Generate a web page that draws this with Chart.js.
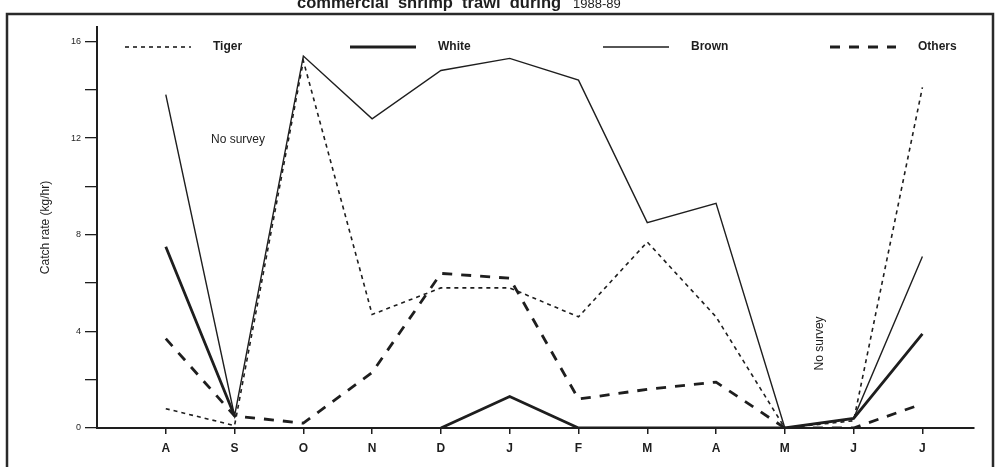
<!DOCTYPE html>
<html>
<head>
<meta charset="utf-8">
<script src="https://cdn.jsdelivr.net/npm/chart.js@4/dist/chart.umd.min.js"></script>
<style>
  html, body { margin: 0; padding: 0; background: #fff; }
  canvas { display: block; }
</style>
</head>
<body>
<canvas id="c" width="999" height="468"></canvas>
<script>
// Months of the 1988-89 survey season (Aug .. Jul)
const months = ['A', 'S', 'O', 'N', 'D', 'J', 'F', 'M', 'A', 'M', 'J', 'J'];

// Catch rate (kg/hr) per shrimp group
const tiger  = [0.8, 0.1, 15.2, 4.7, 5.8, 5.8, 4.6, 7.7, 4.6, 0, 0.3, 14.1];
const white  = [7.5, 0.5, null, null, 0, 1.3, 0, 0, 0, 0, 0.4, 3.9];
const brown  = [13.8, 0.5, 15.4, 12.8, 14.8, 15.3, 14.4, 8.5, 9.3, 0, 0.4, 7.1];
const others = [3.7, 0.5, 0.2, 2.3, 6.4, 6.2, 1.2, 1.6, 1.9, 0, 0, 1.0];

const yTicks = [0, 2, 4, 6, 8, 10, 12, 14, 16];
const yLabelled = [0, 4, 8, 12, 16];

const INK = '#1e1e1e';
const FONT = "'Liberation Sans', Arial, sans-serif";

const toPoints = arr => arr.map((v, i) => ({ x: i, y: v }));

const series = [
  { label: 'Tiger',  data: tiger,  width: 1.6, dash: [4, 4] },
  { label: 'White',  data: white,  width: 2.8, dash: [] },
  { label: 'Brown',  data: brown,  width: 1.4, dash: [] },
  { label: 'Others', data: others, width: 2.8, dash: [10, 9] }
];

// Legend, caption, frame and the "No survey" notes
const decorations = {
  id: 'decorations',
  beforeDraw(chart) {
    const ctx = chart.ctx;
    ctx.save();
    ctx.fillStyle = '#fff';
    ctx.fillRect(0, 0, chart.width, chart.height);
    ctx.restore();
  },
  afterDatasetsDraw(chart, args, opts) {
    const ctx = chart.ctx;
    const xs = chart.scales.x, ys = chart.scales.y;
    ctx.save();
    ctx.fillStyle = INK;
    ctx.strokeStyle = INK;

    // legend row
    chart.data.datasets.forEach((ds, i) => {
      const x0 = opts.legendX[i];
      const y = opts.legendY;
      ctx.beginPath();
      ctx.lineWidth = ds.borderWidth;
      ctx.setLineDash(ds.borderDash || []);
      ctx.moveTo(x0, y);
      ctx.lineTo(x0 + opts.sampleW, y);
      ctx.stroke();
      ctx.setLineDash([]);
      ctx.font = 'bold 12px ' + FONT;
      ctx.textBaseline = 'middle';
      ctx.textAlign = 'left';
      ctx.fillText(ds.label, x0 + opts.sampleW + opts.textGap, y);
    });

    // "No survey" notes
    ctx.font = '12px ' + FONT;
    ctx.textAlign = 'center';
    ctx.textBaseline = 'middle';
    ctx.fillText('No survey', xs.getPixelForValue(1.05), ys.getPixelForValue(11.95));
    ctx.save();
    ctx.translate(xs.getPixelForValue(9.5), ys.getPixelForValue(3.5));
    ctx.rotate(-Math.PI / 2);
    ctx.fillText('No survey', 0, 0);
    ctx.restore();

    // caption, cut by the top edge
    ctx.textBaseline = 'alphabetic';
    ctx.textAlign = 'left';
    ctx.font = 'bold 16.5px ' + FONT;
    const boldPart = 'commercial  shrimp  trawl  during';
    ctx.fillText(boldPart, 297, 8);
    const w = ctx.measureText(boldPart).width;
    ctx.font = '13px ' + FONT;
    ctx.fillText('1988-89', 297 + w + 12, 8);

    // frame
    ctx.lineWidth = 2.5;
    ctx.strokeStyle = '#2a2a2a';
    ctx.beginPath();
    ctx.moveTo(7, 467);
    ctx.lineTo(7, 14);
    ctx.lineTo(993, 14);
    ctx.lineTo(993, 467);
    ctx.stroke();
    ctx.restore();
  }
};

new Chart(document.getElementById('c'), {
  type: 'line',
  data: {
    datasets: series.map(s => ({
      label: s.label,
      data: toPoints(s.data),
      borderColor: INK,
      borderWidth: s.width,
      borderDash: s.dash,
      pointRadius: 0,
      fill: false,
      tension: 0,
      spanGaps: false
    }))
  },
  options: {
    responsive: false,
    devicePixelRatio: 1,
    animation: false,
    layout: { padding: { top: 27, right: 25, left: 0, bottom: 0 } },
    plugins: {
      legend: { display: false },
      title: { display: false },
      tooltip: { enabled: false },
      decorations: { legendX: [125, 350, 603, 830], legendY: 47, sampleW: 66, textGap: 22 }
    },
    scales: {
      x: {
        type: 'linear',
        min: -1,
        max: 11.75,
        afterBuildTicks: scale => { scale.ticks = months.map((m, i) => ({ value: i })); },
        afterFit: scale => { scale.height = 40; },
        ticks: {
          callback: v => months[v],
          color: INK,
          font: { family: FONT, size: 12, weight: 'bold' },
          padding: 7,
          maxRotation: 0,
          autoSkip: false
        },
        grid: { drawOnChartArea: false, drawTicks: true, tickLength: 6, color: INK, lineWidth: 1.5 },
        border: { display: true, color: INK, width: 2 }
      },
      y: {
        min: 0,
        max: 16.6,
        afterBuildTicks: scale => { scale.ticks = yTicks.map(v => ({ value: v })); },
        afterFit: scale => { scale.width = 97; },
        ticks: {
          callback: v => (yLabelled.includes(v) ? String(v) : ''),
          color: INK,
          font: { family: FONT, size: 9 },
          padding: 4,
          autoSkip: false
        },
        grid: { drawOnChartArea: false, drawTicks: true, tickLength: 12, color: INK, lineWidth: 1.3 },
        border: { display: true, color: INK, width: 2 },
        title: {
          display: true,
          text: 'Catch rate (kg/hr)',
          color: INK,
          font: { family: FONT, size: 12 },
          padding: { top: 38, bottom: 0 }
        }
      }
    }
  },
  plugins: [decorations]
});
</script>
</body>
</html>
